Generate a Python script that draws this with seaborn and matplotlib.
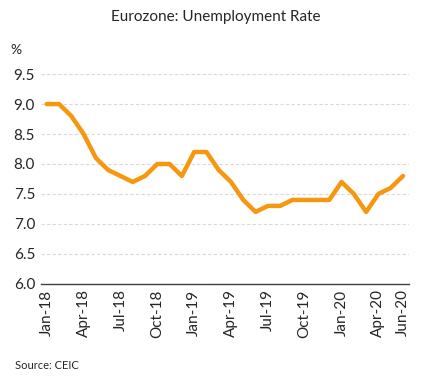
import matplotlib
matplotlib.use('Agg')
import matplotlib.pyplot as plt
import seaborn as sns
import pandas as pd

# Monthly eurozone unemployment rate, Jan-18 .. Jun-20
months = ['Jan-18', 'Feb-18', 'Mar-18', 'Apr-18', 'May-18', 'Jun-18',
          'Jul-18', 'Aug-18', 'Sep-18', 'Oct-18', 'Nov-18', 'Dec-18',
          'Jan-19', 'Feb-19', 'Mar-19', 'Apr-19', 'May-19', 'Jun-19',
          'Jul-19', 'Aug-19', 'Sep-19', 'Oct-19', 'Nov-19', 'Dec-19',
          'Jan-20', 'Feb-20', 'Mar-20', 'Apr-20', 'May-20', 'Jun-20']
rate = [9.0, 9.0, 8.8, 8.5, 8.1, 7.9, 7.8, 7.7, 7.8, 8.0, 8.0, 7.8,
        8.2, 8.2, 7.9, 7.7, 7.4, 7.2, 7.3, 7.3, 7.4, 7.4, 7.4, 7.4,
        7.7, 7.5, 7.2, 7.5, 7.6, 7.8]
tick_labels = ['Jan-18', 'Apr-18', 'Jul-18', 'Oct-18', 'Jan-19', 'Apr-19',
               'Jul-19', 'Oct-19', 'Jan-20', 'Apr-20', 'Jun-20']
y_ticks = [6.0, 6.5, 7.0, 7.5, 8.0, 8.5, 9.0, 9.5]

df = pd.DataFrame({'pos': range(len(months)), 'month': months, 'rate': rate})

sns.set_style('white')
plt.rcParams['font.family'] = ['Lato', 'DejaVu Sans']

fig = plt.figure(figsize=(4.32, 3.82), dpi=100)
ax = fig.add_axes([0.094, 0.257, 0.853, 0.549])

sns.lineplot(data=df, x='pos', y='rate', color='#F7960F', linewidth=3.2, ax=ax)

ax.set_xlim(-0.5, len(months) - 0.5)
ax.set_ylim(6.0, 9.5)
ax.set_yticks(y_ticks)
ax.set_yticklabels(['{:.1f}'.format(v) for v in y_ticks], fontsize=11)
ax.set_xticks([months.index(m) for m in tick_labels])
ax.set_xticklabels(tick_labels, rotation=90, fontsize=11)
ax.tick_params(length=0, pad=4)
ax.set_xlabel('')
ax.set_ylabel('')

ax.yaxis.grid(True, color='#D9D9D9', linestyle=(0, (3, 2)), linewidth=0.8)
ax.set_axisbelow(True)
for s in ['top', 'right', 'left']:
    ax.spines[s].set_visible(False)
ax.spines['bottom'].set_color('#404040')
ax.spines['bottom'].set_linewidth(1.0)

fig.text(0.5, 0.955, 'Eurozone: Unemployment Rate', ha='center', va='center', fontsize=11)
fig.text(0.025, 0.868, '%', ha='left', va='center', fontsize=10)
fig.text(0.035, 0.042, 'Source: CEIC', ha='left', va='center', fontsize=8)

fig.savefig('out.png', dpi=100)
